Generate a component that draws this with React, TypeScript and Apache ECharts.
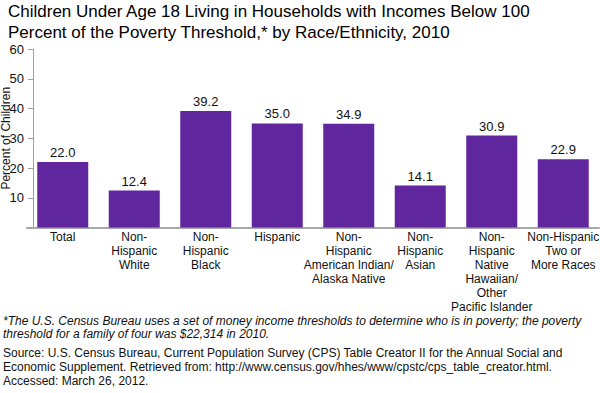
import React, { useEffect, useRef } from "react";
import * as echarts from "echarts";

const categories = [
  "Total",
  "Non-\nHispanic\nWhite",
  "Non-\nHispanic\nBlack",
  "Hispanic",
  "Non-\nHispanic\nAmerican Indian/\nAlaska Native",
  "Non-\nHispanic\nAsian",
  "Non-\nHispanic\nNative\nHawaiian/\nOther\nPacific Islander",
  "Non-Hispanic\nTwo or\nMore Races",
];
const values = [22.0, 12.4, 39.2, 35.0, 34.9, 14.1, 30.9, 22.9];
const yTicks = { min: 0, max: 60, interval: 10 };

const titleText =
  "Children Under Age 18 Living in Households with Incomes Below 100\nPercent of the Poverty Threshold,* by Race/Ethnicity, 2010";
const footnoteLines = [
  "*The U.S. Census Bureau uses a set of money income thresholds to determine who is in poverty; the poverty",
  "threshold for a family of four was $22,314 in 2010.",
];
const sourceLines = [
  "Source: U.S. Census Bureau, Current Population Survey (CPS) Table Creator II for the Annual Social and",
  "Economic Supplement. Retrieved from: http://www.census.gov/hhes/www/cpstc/cps_table_creator.html.",
  "Accessed: March 26, 2012.",
];

const FONT = "Liberation Sans, Arial, sans-serif";

export default function App() {
  const ref = useRef<HTMLDivElement>(null);
  useEffect(() => {
    if (!ref.current) return;
    const chart = echarts.init(ref.current, null, { renderer: "svg" });
    chart.setOption({
      animation: false,
      backgroundColor: "#ffffff",
      textStyle: { fontFamily: FONT },
      title: {
        text: titleText,
        left: 3,
        top: -4,
        textStyle: {
          fontFamily: FONT,
          fontSize: 17,
          fontWeight: "normal",
          color: "#000",
          lineHeight: 21,
        },
      },
      grid: {
        left: 27,
        right: 1,
        top: 49,
        bottom: 393 - 227.5,
        outerBoundsMode: "none",
        containLabel: false,
      },
      xAxis: {
        type: "category",
        data: categories,
        axisLine: { show: true, lineStyle: { color: "#a8a8a8", width: 2 } },
        axisTick: { show: false },
        axisLabel: {
          interval: 0,
          fontFamily: FONT,
          fontSize: 12,
          lineHeight: 14,
          color: "#111",
          margin: 2,
        },
      },
      yAxis: {
        type: "value",
        min: yTicks.min,
        max: yTicks.max,
        interval: yTicks.interval,
        offset: -6,
        name: "Percent of Children",
        nameLocation: "middle",
        nameGap: 21,
        nameMoveOverlap: false,
        nameTextStyle: { fontFamily: FONT, fontSize: 12, color: "#111" },
        axisLine: { show: true, lineStyle: { color: "#a0a0a0", width: 1 } },
        axisTick: { show: true, length: 5, lineStyle: { color: "#a0a0a0" } },
        splitLine: { show: false },
        axisLabel: {
          fontFamily: FONT,
          fontSize: 13,
          color: "#111",
          margin: 9,
          formatter: (v: number) => (v === 0 ? "" : String(v)),
        },
      },
      series: [
        {
          type: "bar",
          data: values,
          barWidth: 51,
          itemStyle: { color: "#60269E" },
          label: {
            show: true,
            position: "top",
            distance: 3,
            fontFamily: FONT,
            fontSize: 13,
            color: "#111",
            formatter: (p: any) => Number(p.value).toFixed(1),
          },
        },
      ],
      graphic: [
        ...footnoteLines.map((t, i) => ({
          type: "text",
          left: 3,
          top: 315 + i * 13,
          style: {
            text: t,
            font: `italic 12px ${FONT}`,
            fill: "#111",
          },
        })),
        ...sourceLines.map((t, i) => ({
          type: "text",
          left: 3,
          top: 347 + i * 14,
          style: {
            text: t,
            font: `12px ${FONT}`,
            fill: "#111",
          },
        })),
      ],
    });
    return () => chart.dispose();
  }, []);
  return (
    <div
      ref={ref}
      style={{ position: "absolute", left: 0, top: 0, width: 600, height: 393 }}
    />
  );
}
